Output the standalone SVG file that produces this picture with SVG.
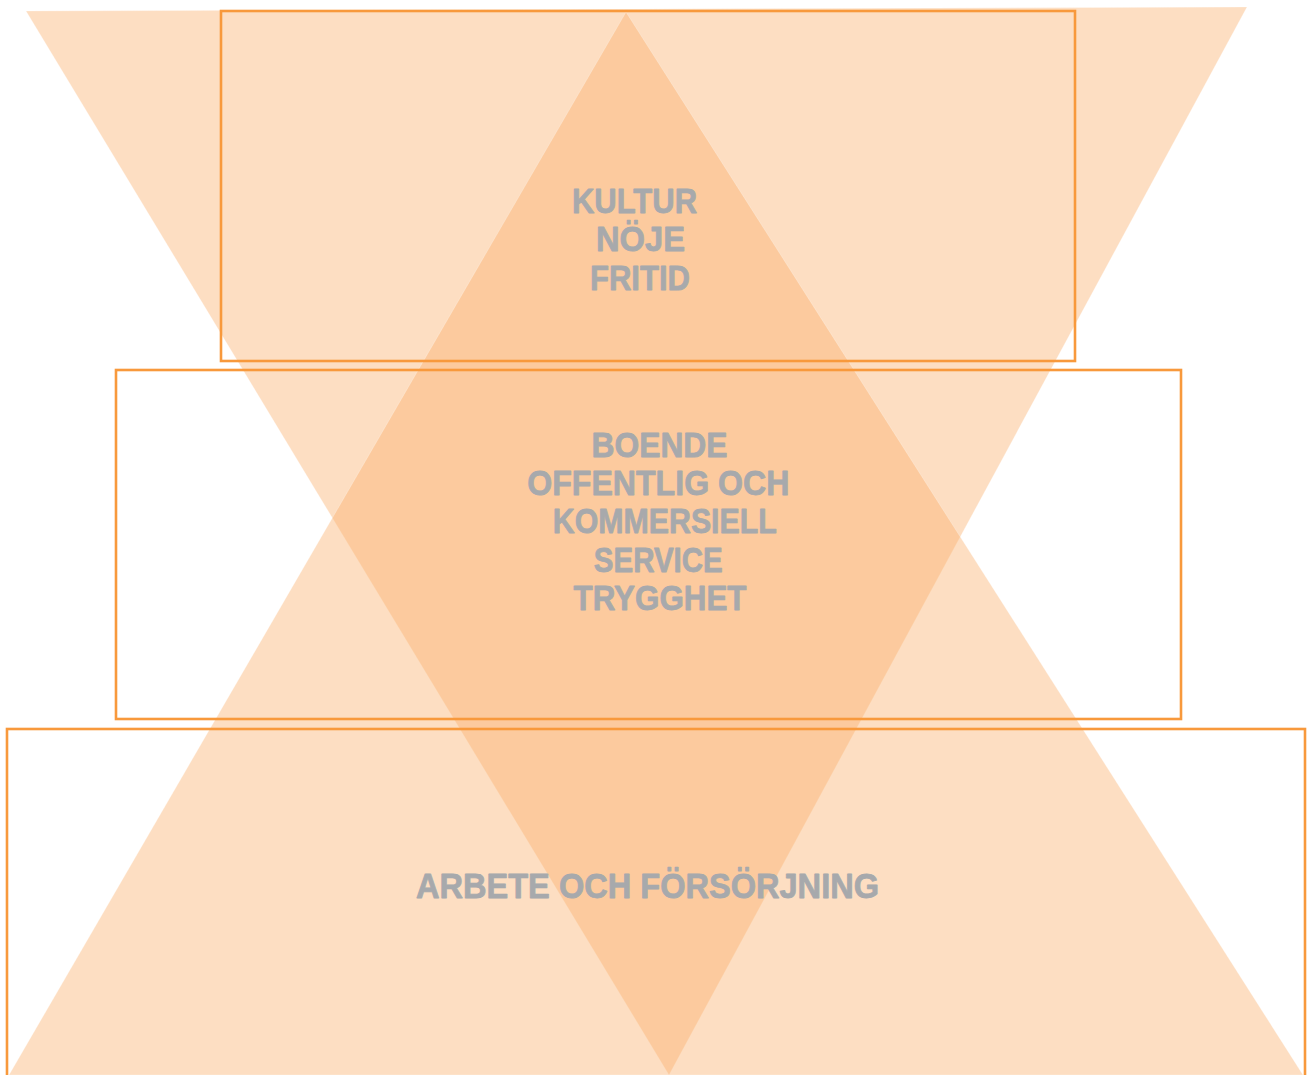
<svg xmlns="http://www.w3.org/2000/svg" width="1309" height="1075" viewBox="0 0 1309 1075">
  <style>
    .tri { fill: rgb(250,176,107); fill-opacity: 0.41; stroke: #ffffff; stroke-opacity: 0.25; stroke-width: 1; }
    .box { fill: none; stroke: #F8993C; stroke-width: 2.6; }
    .lbl { font-family: "Liberation Sans", Arial, sans-serif; font-weight: bold; font-size: 35px; fill: #A7A9AC; stroke: #A7A9AC; stroke-width: 0.8; stroke-linejoin: round; text-anchor: middle; }
  </style>
  <rect width="1309" height="1075" fill="#ffffff"/>
  <g id="triangles">
    <polygon id="tri-down" class="tri" points="26,11 1247,7 669,1075"/>
    <polygon id="tri-up" class="tri" points="626,12 9,1075 1303,1075"/>
  </g>
  <g id="connectors"></g>
  <g id="node-kultur">
    <rect class="box" x="221" y="11" width="854" height="350"/>
    <text class="lbl" x="634.5" y="212.5" textLength="125" lengthAdjust="spacingAndGlyphs">KULTUR</text>
    <text class="lbl" x="640.5" y="251" textLength="89" lengthAdjust="spacingAndGlyphs">NÖJE</text>
    <text class="lbl" x="640" y="289.5" textLength="100" lengthAdjust="spacingAndGlyphs">FRITID</text>
  </g>
  <g id="node-boende">
    <rect class="box" x="116" y="370" width="1065" height="349"/>
    <text class="lbl" x="659.5" y="456.5" textLength="136" lengthAdjust="spacingAndGlyphs">BOENDE</text>
    <text class="lbl" x="658.3" y="494.5" textLength="262" lengthAdjust="spacingAndGlyphs">OFFENTLIG OCH</text>
    <text class="lbl" x="664.8" y="533" textLength="224" lengthAdjust="spacingAndGlyphs">KOMMERSIELL</text>
    <text class="lbl" x="658.3" y="571.5" textLength="129" lengthAdjust="spacingAndGlyphs">SERVICE</text>
    <text class="lbl" x="660" y="610" textLength="173" lengthAdjust="spacingAndGlyphs">TRYGGHET</text>
  </g>
  <g id="node-arbete">
    <rect class="box" x="7" y="729" width="1298" height="360"/>
    <text class="lbl" x="647.5" y="898" textLength="463" lengthAdjust="spacingAndGlyphs">ARBETE OCH FÖRSÖRJNING</text>
  </g>
</svg>
